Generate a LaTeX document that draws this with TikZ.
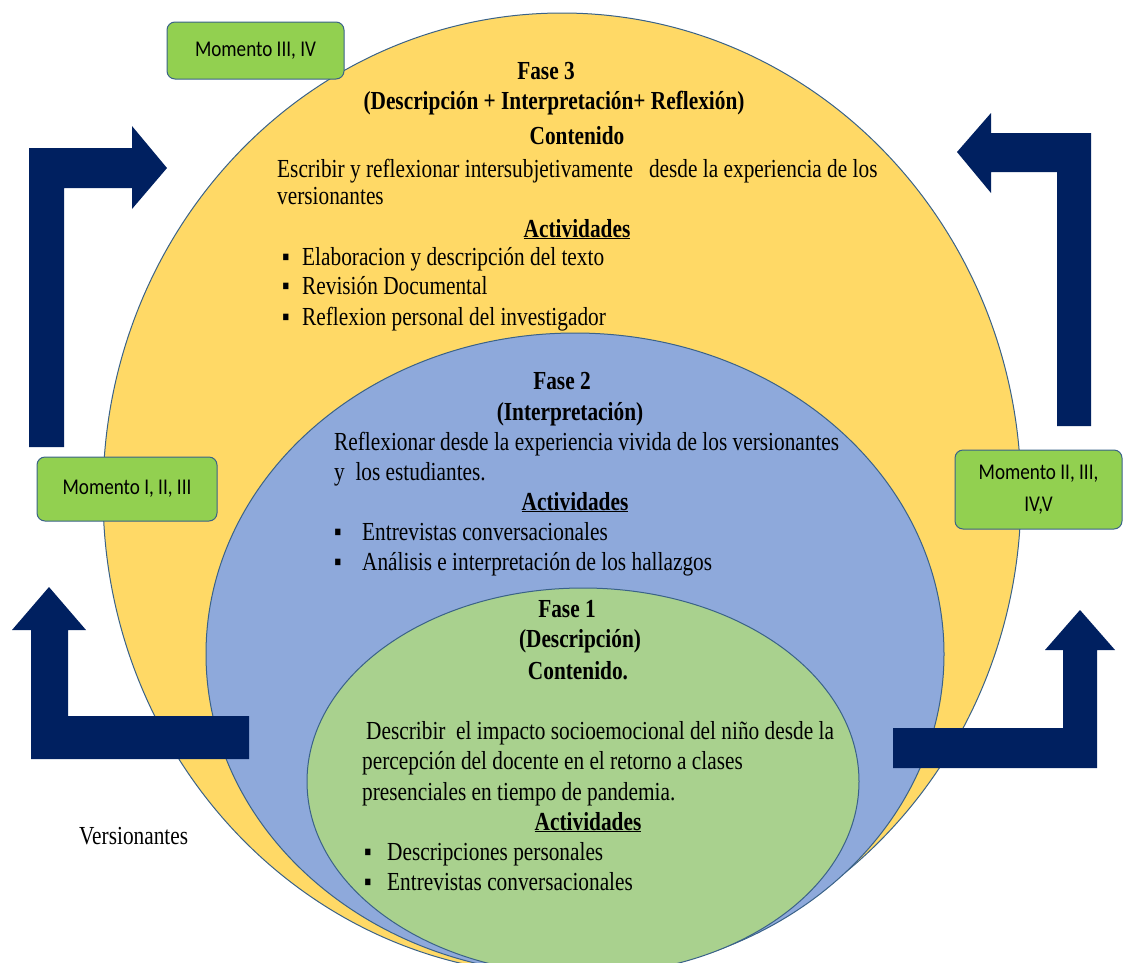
\documentclass[tikz,border=0pt]{standalone}
\usepackage{fontspec}
\setmainfont[FakeStretch=0.82]{Liberation Serif}
\newfontfamily\momfont[FakeStretch=0.85]{Carlito}
\usetikzlibrary{shapes.geometric}
\definecolor{faseyellow}{HTML}{FFD966}
\definecolor{faseblue}{HTML}{8EA9DB}
\definecolor{fasegreen}{HTML}{A9D18E}
\definecolor{momgreen}{HTML}{92D050}
\definecolor{navy}{HTML}{002060}
\definecolor{rim}{HTML}{3A6288}
\newcommand{\vineta}[1]{\makebox[#1][l]{▪}}

\begin{document}
\begin{tikzpicture}[x=1pt,y=-1pt]
\tikzstyle{fase}=[shape=ellipse,draw=rim,line width=1pt,inner sep=0pt]
\tikzstyle{momento}=[shape=rectangle,rounded corners=8pt,draw=rim,fill=momgreen,line width=1pt,align=center,font=\momfont\fontsize{22.5}{32}\selectfont]
\tikzstyle{head}=[anchor=base,inner sep=0pt,font=\bfseries\fontsize{26}{29}\selectfont]
\tikzstyle{txt}=[anchor=base west,inner sep=0pt,font=\fontsize{26}{29}\selectfont]
\tikzstyle{flecha}=[fill=navy]

\useasboundingbox (0,0) rectangle (1124,962);
\clip (0,0) rectangle (1124,962);

\node[fase,fill=faseyellow,minimum width=918pt,minimum height=962pt] (F3) at (562,494) {};
\node[fase,fill=faseblue,minimum width=738pt,minimum height=642pt] (F2) at (575,654) {};
\node[fase,fill=fasegreen,minimum width=552pt,minimum height=387pt] (F1) at (583,781.5) {};

\fill[flecha] (29,447) -- (29,148) -- (132,148) -- (132,126) -- (167,168) -- (132,209) -- (132,188) -- (64,188) -- (64,447) -- cycle;
\fill[flecha] (1091,426) -- (1091,133) -- (991,133) -- (991,113) -- (957,152) -- (991,193) -- (991,172) -- (1057,172) -- (1057,426) -- cycle;
\fill[flecha] (249,716) -- (68,716) -- (68,630) -- (86,630) -- (49,587) -- (12,630) -- (31,630) -- (31,759) -- (249,759) -- cycle;
\fill[flecha] (893,728) -- (1063,728) -- (1063,650) -- (1045,650) -- (1080,610) -- (1115,650) -- (1097,650) -- (1097,768) -- (893,768) -- cycle;

\node[momento,minimum width=177pt,minimum height=57pt] (M34) at (255.5,50.5) {Momento III, IV};
\node[momento,minimum width=180pt,minimum height=64pt] (M123) at (127,489) {Momento I, II, III};
\node[momento,minimum width=167pt,minimum height=79pt] (M2345) at (1038.5,489.5) {Momento II, III,\\IV,V};

\node[head] (F3t) at (546,79) {Fase 3};
\node[head] (F3s) at (554,109) {(Descripción + Interpretación+ Reflexión)};
\node[head] (F3c) at (577,144) {Contenido};
\node[txt] (F3p) at (277,177) {Escribir y reflexionar intersubjetivamente\ \ \ desde la experiencia de los};
\node[txt] (F3q) at (277,204) {versionantes};
\node[head] (F3a) at (577,237) {\underline{Actividades}};
\node[txt] (F3b) at (282,265) {\vineta{20pt}Elaboracion y descripción del texto};
\node[txt] (F3c) at (282,294) {\vineta{20pt}Revisión Documental};
\node[txt] (F3d) at (282,325) {\vineta{20pt}Reflexion personal del investigador};

\node[head] (F2t) at (562,389) {Fase 2};
\node[head] (F2s) at (570,420) {(Interpretación)};
\node[txt] (F2p) at (334,450) {Reflexionar desde la experiencia vivida de los versionantes};
\node[txt] (F2q) at (334,480) {y\ \ los estudiantes.};
\node[head] (F2a) at (575,510) {\underline{Actividades}};
\node[txt] (F2b) at (334,540) {\vineta{28pt}Entrevistas conversacionales};
\node[txt] (F2c) at (334,570) {\vineta{28pt}Análisis e interpretación de los hallazgos};

\node[head] (F1t) at (567,617) {Fase 1};
\node[head] (F1s) at (580,647) {(Descripción)};
\node[head] (F1c) at (578,679) {Contenido.};
\node[txt] (F1p) at (366,739) {Describir\ \ el impacto socioemocional del niño desde la};
\node[txt] (F1q) at (362,769) {percepción del docente en el retorno a clases};
\node[txt] (F1r) at (362,800) {presenciales en tiempo de pandemia.};
\node[head] (F1a) at (588,830) {\underline{Actividades}};
\node[txt] (F1b) at (364,860) {\vineta{23pt}Descripciones personales};
\node[txt] (F1d) at (364,890) {\vineta{23pt}Entrevistas conversacionales};

\node[txt] (V) at (79,844) {Versionantes};
\end{tikzpicture}
\end{document}
